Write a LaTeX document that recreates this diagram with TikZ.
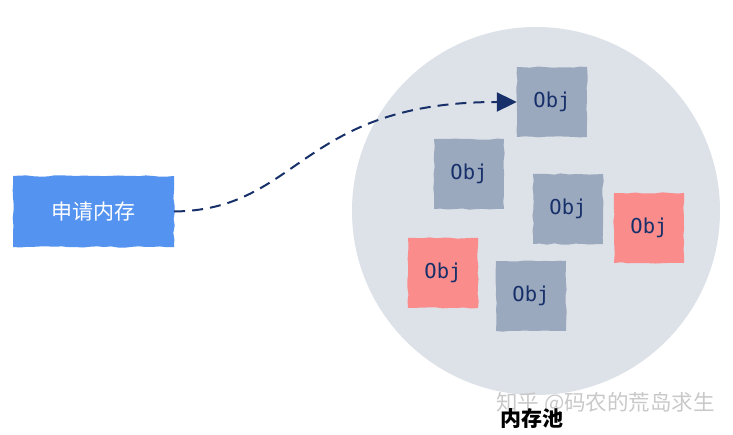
\documentclass[tikz,border=0pt]{standalone}
\usepackage{fontspec}
\newfontfamily\cjk{Noto Sans CJK SC}
\newfontfamily\monofont{DejaVu Sans Mono}
\usetikzlibrary{arrows.meta,decorations.pathmorphing}
\definecolor{poolbg}{HTML}{DDE1E8}
\definecolor{objgray}{HTML}{9BA9BF}
\definecolor{objred}{HTML}{FA8C8C}
\definecolor{navy}{HTML}{173069}
\definecolor{reqblue}{HTML}{5593F0}
\definecolor{wm}{HTML}{C9C9C9}
\tikzset{
  rough/.style={decorate,decoration={random steps,segment length=7pt,amplitude=0.7pt}},
  obj/.style={minimum width=70pt,minimum height=70pt,inner sep=0pt,text=navy,font=\monofont\fontsize{20.5}{20.5}\selectfont},
  req/.style={minimum width=161pt,minimum height=71pt,inner sep=0pt,text=white,font=\cjk\fontsize{21}{21}\selectfont},
  flow/.style={navy,line width=2pt,dash pattern=on 11pt off 7pt,-{Triangle[length=20pt,width=19pt]}}
}
\begin{document}
\pgfmathsetseed{7}
\begin{tikzpicture}[x=1pt,y=-1pt]
\useasboundingbox (0,0) rectangle (733,435);
\fill[white] (0,0) rectangle (733,435);
% pool
\fill[poolbg] (536,211) circle[radius=184];
% request box
\fill[reqblue,rough] (13,176) rectangle (174,247);
\node[req] (req) at (93.5,211.5) {申请内存};
% objects
\fill[objgray,rough] (517,67) rectangle (587,137);
\node[obj] (o1) at (552,102) {Obj};
\fill[objgray,rough] (434,139) rectangle (504,209);
\node[obj] (o2) at (469,174) {Obj};
\fill[objgray,rough] (533,174) rectangle (603,244);
\node[obj] (o3) at (568,209) {Obj};
\fill[objred,rough] (614,193) rectangle (684,263);
\node[obj] (o4) at (649,228) {Obj};
\fill[objred,rough] (408,238) rectangle (478,308);
\node[obj] (o5) at (443,273) {Obj};
\fill[objgray,rough] (496,261) rectangle (566,331);
\node[obj] (o6) at (531,296) {Obj};
% connector
\draw[flow] (req.east) .. controls (300,210) and (300,102) .. (o1.west);
% labels
\node[font=\cjk\fontsize{21.5}{21.5}\selectfont,text=wm,anchor=west,inner sep=0pt] (wmk) at (496,403) {知乎 @码农的荒岛求生};
\node[font=\cjk\bfseries\fontsize{21}{21}\selectfont,text=black,inner sep=0pt] (pool) at (532,419) {内存池};
\end{tikzpicture}
\end{document}
